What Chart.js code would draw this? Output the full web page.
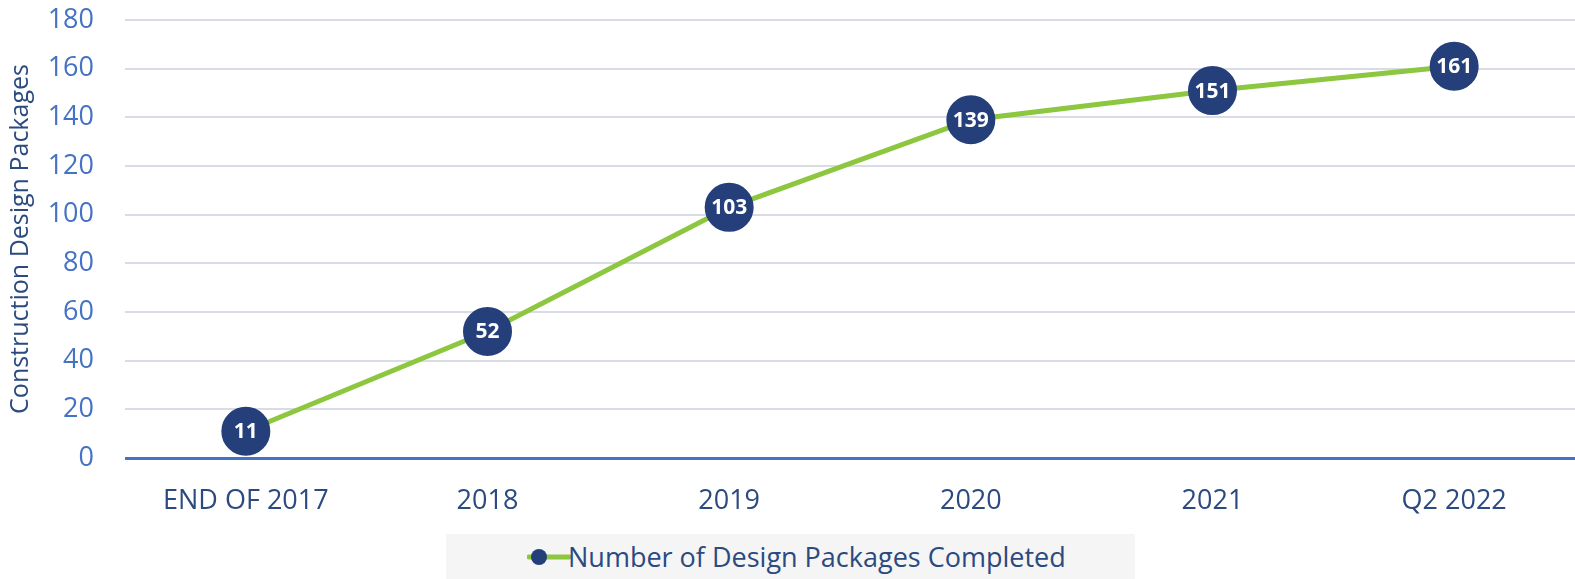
<!DOCTYPE html>
<html>
<head>
<meta charset="utf-8">
<script src="https://cdn.jsdelivr.net/npm/chart.js@4/dist/chart.umd.min.js"></script>
<style>
  html, body { margin:0; padding:0; background:#fff; }
  #wrap { position:relative; width:1575px; height:579px; }
  #legend { position:absolute; left:446px; top:534px; width:689px; height:45px; background:#f5f5f5; }
  #legend svg { position:absolute; left:81px; top:11px; }
  #legend span { position:absolute; left:122px; top:4px; font-family:"Open Sans", sans-serif; font-size:27px; color:#2b4a80; white-space:nowrap; line-height:38px; }
</style>
</head>
<body>
<div id="wrap">
  <canvas id="c" width="1575" height="579"></canvas>
  <div id="legend">
    <svg width="44" height="24" viewBox="0 0 44 24"><line x1="2" y1="12" x2="42" y2="12" stroke="#8dc63f" stroke-width="5" stroke-linecap="round"/><circle cx="12" cy="12" r="8" fill="#243f7a"/></svg>
    <span>Number of Design Packages Completed</span>
  </div>
</div>
<script>
const categories = ["END OF 2017", "2018", "2019", "2020", "2021", "Q2 2022"];
const packagesCompleted = [11, 52, 103, 139, 151, 161];
const seriesName = "Number of Design Packages Completed";
const yTitle = "Construction Design Packages";

const valueLabels = {
  id: 'valueLabels',
  afterDatasetsDraw(chart) {
    const ctx = chart.ctx;
    const meta = chart.getDatasetMeta(0);
    ctx.save();
    ctx.fillStyle = '#ffffff';
    ctx.font = 'bold 21px "Open Sans", sans-serif';
    ctx.textAlign = 'center';
    ctx.textBaseline = 'middle';
    meta.data.forEach((pt, i) => {
      ctx.fillText(String(chart.data.datasets[0].data[i]), pt.x, pt.y + 1);
    });
    ctx.restore();
  }
};

new Chart(document.getElementById('c'), {
  type: 'line',
  data: {
    labels: categories,
    datasets: [{
      label: seriesName,
      data: packagesCompleted,
      borderColor: '#8dc63f',
      borderWidth: 5,
      backgroundColor: '#243f7a',
      pointBackgroundColor: '#243f7a',
      pointBorderColor: '#243f7a',
      pointRadius: 22,
      pointHoverRadius: 22,
      tension: 0,
      clip: false
    }]
  },
  options: {
    responsive: false,
    animation: false,
    events: [],
    layout: { autoPadding: false, padding: { top: 20, left: 0, right: 0, bottom: 51 } },
    plugins: { legend: { display: false }, tooltip: { enabled: false } },
    scales: {
      x: {
        offset: true,
        grid: { display: false, drawTicks: false },
        border: { display: false },
        ticks: { color: '#2b4a80', font: { family: '"Open Sans", sans-serif', size: 27 }, padding: 27, maxRotation: 0 },
        afterFit: s => { s.height = 70; s.paddingLeft = 0; s.paddingRight = 0; }
      },
      y: {
        min: 0, max: 180,
        ticks: { stepSize: 20, color: '#4472c4', font: { family: '"Open Sans", sans-serif', size: 27 }, padding: 31 },
        grid: {
          drawTicks: false,
          color: c => c.tick && c.tick.value === 0 ? '#4472c4' : '#d9dce4',
          lineWidth: c => c.tick && c.tick.value === 0 ? 3 : 2
        },
        border: { display: false },
        title: { display: true, text: yTitle, color: '#2b4a80', font: { family: '"Open Sans", sans-serif', size: 25 }, padding: { top: 6, bottom: 0 } },
        afterFit: s => { s.width = 125; s.paddingTop = 0; s.paddingBottom = 0; }
      }
    }
  },
  plugins: [valueLabels]
});
</script>
</body>
</html>
